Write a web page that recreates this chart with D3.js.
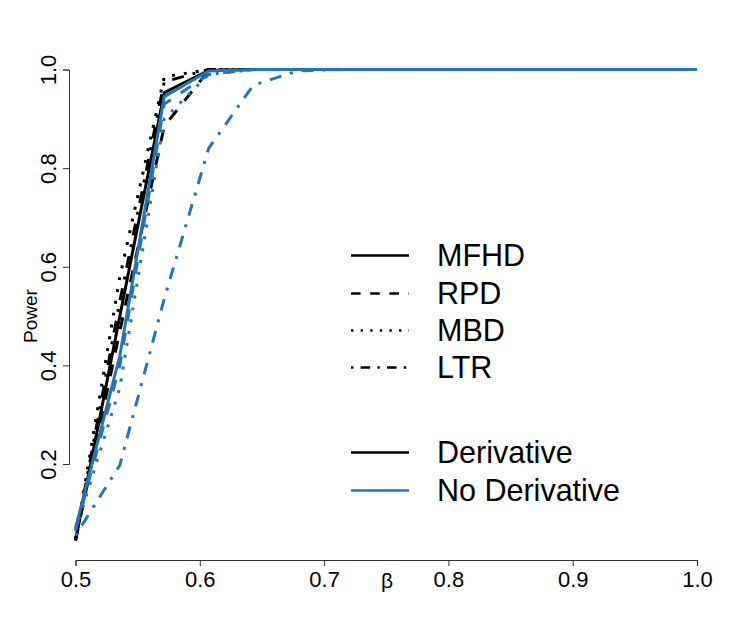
<!DOCTYPE html>
<html>
<head>
<meta charset="utf-8">
<script src="https://cdn.jsdelivr.net/npm/d3@7"></script>
<style>
body { margin: 0; background: #fff; }
svg { font-family: "Liberation Sans", Arial, sans-serif; }
</style>
</head>
<body>
<div id="chart"></div>
<script>
var width = 747,
    height = 623;

// beta grid (x values)
var betaGrid = [0.5, 0.5357, 0.5714, 0.6071, 0.6429, 0.6786, 0.7143, 0.75, 0.7857, 0.8214, 0.8571, 0.8929, 0.9286, 0.9643, 1.0];

// power, with derivative (black)
var mfhdDeriv = [0.045, 0.50, 0.953, 0.998, 1, 1, 1, 1, 1, 1, 1, 1, 1, 1, 1];
var rpdDeriv  = [0.045, 0.47, 0.885, 0.998, 1, 1, 1, 1, 1, 1, 1, 1, 1, 1, 1];
var mbdDeriv  = [0.045, 0.58, 0.985, 1, 1, 1, 1, 1, 1, 1, 1, 1, 1, 1, 1];
var ltrDeriv  = [0.048, 0.53, 0.975, 1, 1, 1, 1, 1, 1, 1, 1, 1, 1, 1, 1];

// power, no derivative (blue)
var mfhdNoDeriv = [0.07, 0.42, 0.945, 0.997, 1, 1, 1, 1, 1, 1, 1, 1, 1, 1, 1];
var rpdNoDeriv  = [0.065, 0.40, 0.93, 0.99, 1, 1, 1, 1, 1, 1, 1, 1, 1, 1, 1];
var mbdNoDeriv  = [0.065, 0.355, 0.90, 0.99, 1, 1, 1, 1, 1, 1, 1, 1, 1, 1, 1];
var ltrNoDeriv  = [0.055, 0.198, 0.535, 0.84, 0.968, 0.997, 1, 1, 1, 1, 1, 1, 1, 1, 1];

var xTicks = [0.5, 0.6, 0.7, 0.8, 0.9, 1.0];
var yTicks = [0.2, 0.4, 0.6, 0.8, 1.0];

var methods = ["MFHD", "RPD", "MBD", "LTR"];
var types = ["Derivative", "No Derivative"];
var typeColors = ["#000000", "#2474b8"];

// line types like R lty 1..4, scaled by line width
var dashes = [null, [4, 4], [1, 3], [1, 3, 4, 3]];
function dashFor(i, lw) {
    return dashes[i] ? dashes[i].map(function(d) { return d * lw; }).join(",") : null;
}

var series = [
    {m: 0, t: 0, v: mfhdDeriv},
    {m: 1, t: 0, v: rpdDeriv},
    {m: 2, t: 0, v: mbdDeriv},
    {m: 3, t: 0, v: ltrDeriv},
    {m: 0, t: 1, v: mfhdNoDeriv},
    {m: 1, t: 1, v: rpdNoDeriv},
    {m: 2, t: 1, v: mbdNoDeriv},
    {m: 3, t: 1, v: ltrNoDeriv}
];

var svg = d3.select("#chart")
    .append("svg")
    .attr("width", width)
    .attr("height", height);

var xScale = d3.scaleLinear()
    .domain([0.5, 1.0])
    .range([75.5, 697]);

var yScale = d3.scaleLinear()
    .domain([0.2, 1.0])
    .range([464, 69.5]);

var axisLeftX = 69,
    axisBottomY = 560;

// x axis
var xAxis = d3.axisBottom(xScale)
    .tickValues(xTicks)
    .tickFormat(d3.format(".1f"))
    .tickSizeOuter(0)
    .tickSize(6)
    .tickPadding(5);

var gx = svg.append("g")
    .attr("transform", "translate(0," + axisBottomY + ")")
    .call(xAxis);
gx.selectAll("path, line").attr("stroke", "#333");
gx.selectAll("text")
    .attr("fill", "#000")
    .style("font-size", "22px");

// y axis
var yAxis = d3.axisLeft(yScale)
    .tickValues(yTicks)
    .tickFormat(d3.format(".1f"))
    .tickSizeOuter(0)
    .tickSize(6);

var gy = svg.append("g")
    .attr("transform", "translate(" + axisLeftX + ",0)")
    .call(yAxis);
gy.selectAll("path, line").attr("stroke", "#333");
gy.selectAll("text")
    .attr("x", null)
    .attr("dy", null)
    .attr("fill", "#000")
    .attr("text-anchor", "middle")
    .attr("transform", "translate(-13,0) rotate(-90)")
    .style("font-size", "22px");

svg.selectAll(".domain").attr("stroke-width", 1);

// axis titles
svg.append("text")
    .attr("transform", "translate(37,316) rotate(-90)")
    .attr("text-anchor", "middle")
    .style("font-size", "19px")
    .text("Power");

svg.append("text")
    .attr("x", 387)
    .attr("y", 588)
    .attr("text-anchor", "middle")
    .style("font-size", "21px")
    .text("β");

// lines
var line = d3.line()
    .x(function(d, i) { return xScale(betaGrid[i]); })
    .y(function(d) { return yScale(d); });

svg.append("g")
    .selectAll("path")
    .data(series)
    .enter()
    .append("path")
    .attr("d", function(d) { return line(d.v); })
    .attr("fill", "none")
    .attr("stroke", function(d) { return typeColors[d.t]; })
    .attr("stroke-width", 3)
    .attr("stroke-linejoin", "round")
    .attr("stroke-dasharray", function(d) { return dashFor(d.m, 3); });

// legend
var legendRows = [266, 304, 341, 378];
var legend = svg.append("g");

methods.forEach(function(m, i) {
    legend.append("line")
        .attr("x1", 351).attr("x2", 409)
        .attr("y1", legendRows[i] - 10.5).attr("y2", legendRows[i] - 10.5)
        .attr("stroke", "#000")
        .attr("stroke-width", 2.4)
        .attr("stroke-dasharray", dashFor(i, 2.4));
    legend.append("text")
        .attr("x", 437)
        .attr("y", legendRows[i])
        .style("font-size", "30.5px")
        .text(m);
});

var typeRows = [463, 501];
types.forEach(function(t, i) {
    legend.append("line")
        .attr("x1", 351).attr("x2", 409)
        .attr("y1", typeRows[i] - 10.5).attr("y2", typeRows[i] - 10.5)
        .attr("stroke", typeColors[i])
        .attr("stroke-width", 2.4);
    legend.append("text")
        .attr("x", 437)
        .attr("y", typeRows[i])
        .style("font-size", "30.5px")
        .text(t);
});
</script>
</body>
</html>
